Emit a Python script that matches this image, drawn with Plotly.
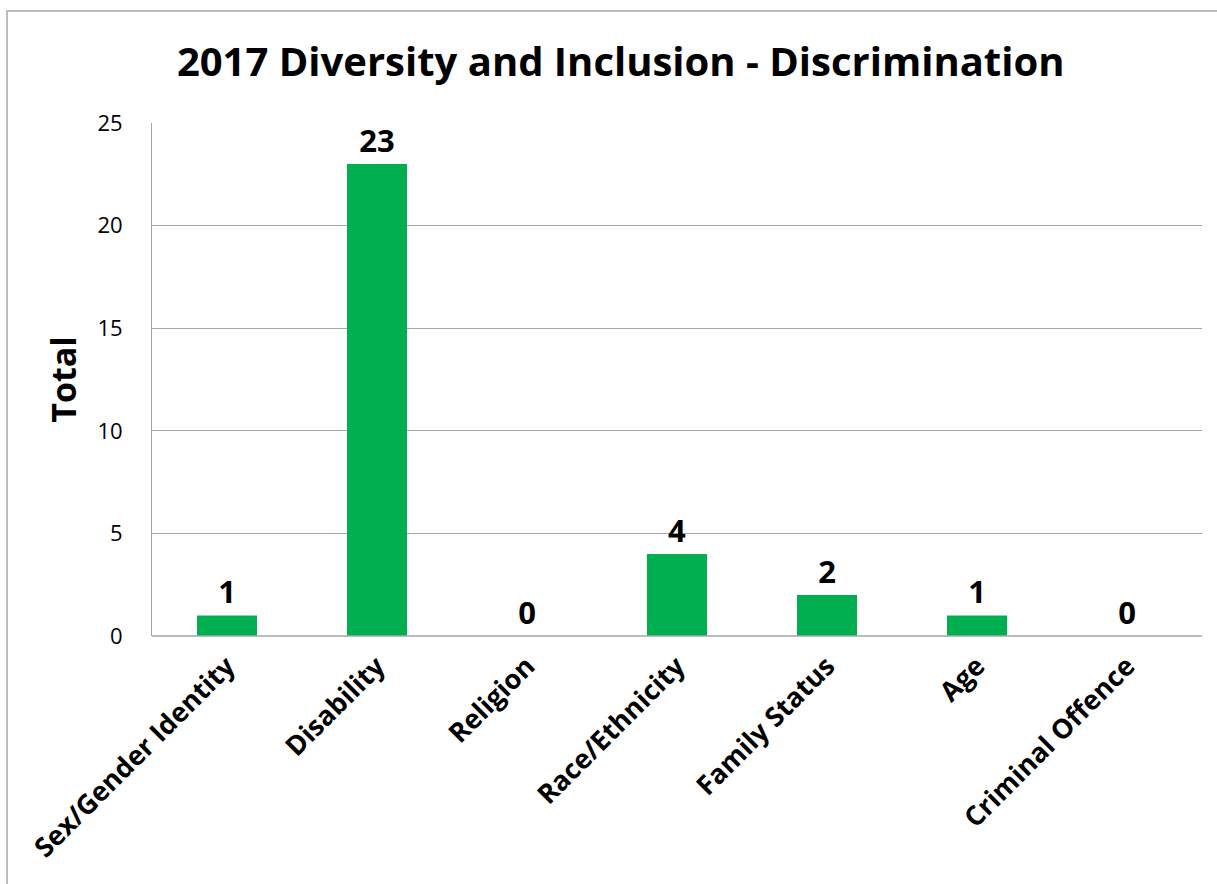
import plotly.graph_objects as go

categories = ["Sex/Gender Identity", "Disability", "Religion", "Race/Ethnicity",
              "Family Status", "Age", "Criminal Offence"]
values = [1, 23, 0, 4, 2, 1, 0]
y_ticks = [0, 5, 10, 15, 20, 25]

W, H = 1217, 884
L, R, T, B = 152, 15, 123, 248
pw, ph = W - L - R, H - T - B

fig = go.Figure()
fig.add_trace(go.Bar(
    x=categories, y=values,
    marker=dict(color="#00B050", line=dict(width=0)),
    width=0.4,
    text=[str(v) for v in values],
    textposition="outside",
    textfont=dict(family="Open Sans", size=31, color="black", weight="bold"),
    cliponaxis=False,
))

fig.update_layout(
    width=W, height=H,
    margin=dict(l=L, r=R, t=T, b=B),
    paper_bgcolor="white", plot_bgcolor="white",
    showlegend=False,
    title=dict(text="<b>2017 Diversity and Inclusion - Discrimination</b>",
               x=0.51, xanchor="center", y=1 - 62 / H, yanchor="middle",
               font=dict(family="Open Sans", size=40, color="black")),
    xaxis=dict(tickangle=-45, showline=False, showgrid=False, ticklabelstandoff=8,
               tickfont=dict(family="Open Sans", size=27, color="black", weight="bold"),
               range=[-0.5, 6.5]),
    yaxis=dict(range=[0, 25], tickvals=y_ticks, showgrid=True, gridcolor="#A6A6A6",
               gridwidth=1, showline=True, linecolor="#A6A6A6", linewidth=1,
               zeroline=False, ticks="", ticklabelstandoff=24,
               tickfont=dict(family="Open Sans", size=22, color="black"),
               title=dict(text="<b>Total</b>", standoff=10,
                          font=dict(family="Open Sans", size=34, color="black"))),
)

# axis line at bottom
fig.add_shape(type="line", xref="paper", yref="paper", x0=0, x1=1, y0=0, y1=0,
              line=dict(color="#A6A6A6", width=1.5))
# outer chart border
fig.add_shape(type="rect", xref="paper", yref="paper",
              x0=(7 - L) / pw, x1=(W + 20 - L) / pw,
              y0=-(H + 20 - (T + ph)) / ph, y1=(T + ph - 11) / ph,
              line=dict(color="#A6A6A6", width=1.5), fillcolor="rgba(0,0,0,0)")

fig.write_html("out.html")
